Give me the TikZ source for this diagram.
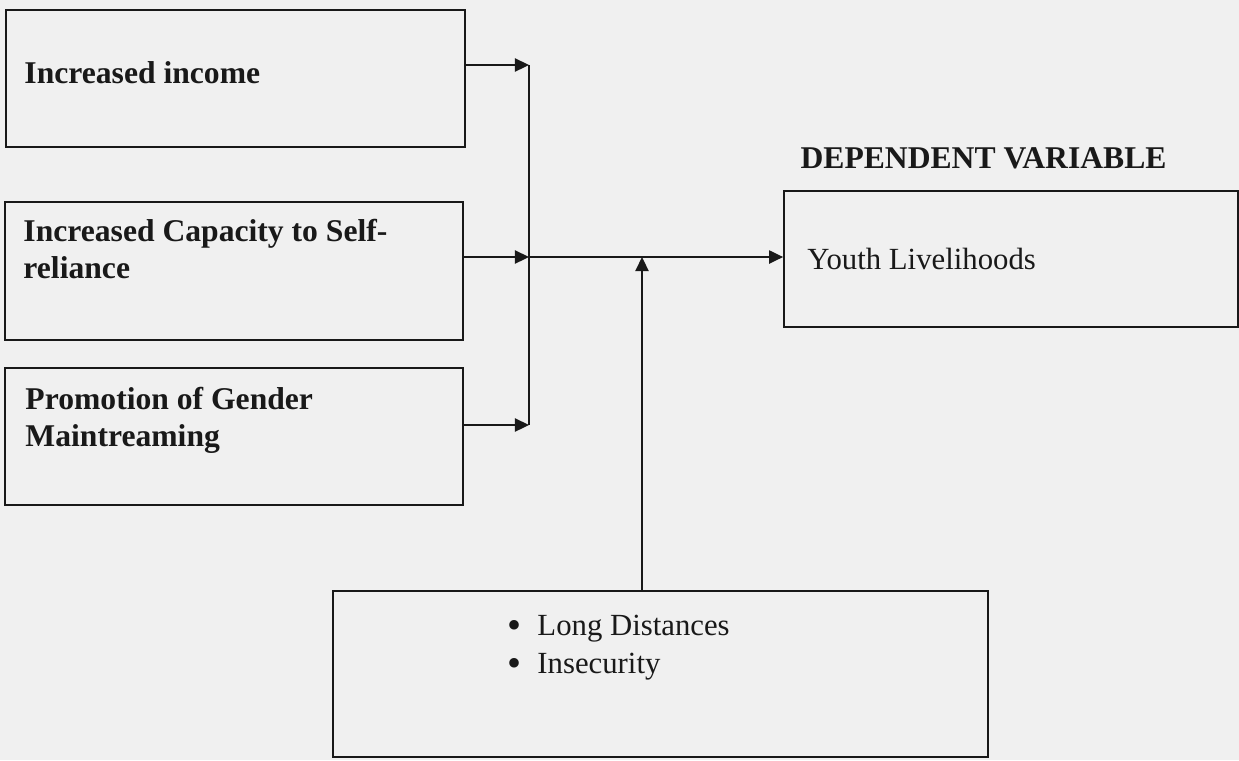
\documentclass[tikz,border=0pt]{standalone}
\usepackage{fontspec}
\setmainfont{Liberation Serif}
\usepackage{tikz}
\usetikzlibrary{positioning,calc}
\usetikzlibrary{arrows.meta}
\definecolor{paper}{rgb}{0.94,0.94,0.94}
\definecolor{ink}{rgb}{0.1,0.1,0.1}

\newcommand{\blt}{\makebox[0.6cm][l]{\raisebox{-1.6pt}{\scalebox{1.3}{\textbullet}}}}

\begin{document}
\begin{tikzpicture}[
  box/.style = {
    draw = ink,
    line width = 1pt,
    rectangle,
    inner sep = 0pt,
  },
  txt/.style = {
    inner sep = 0pt,
    align = left,
    text = ink,
    font = \fontsize{17.5}{20.5}\selectfont,
  },
  btxt/.style = {
    txt,
    font = \fontsize{18}{20.8}\selectfont\bfseries,
  },
  >={Triangle[length=8pt,width=7.5pt]},
]

  \fill[paper] (0,0) rectangle (24.78,-15.2);
  \useasboundingbox (0,0) rectangle (24.78,-15.2);

  % independent variables
  \node[box,minimum width=9.18cm,minimum height=2.74cm] (inc) at (4.71,-1.57) {};
  \node[box,minimum width=9.16cm,minimum height=2.76cm] (cap) at (4.68,-5.42) {};
  \node[box,minimum width=9.16cm,minimum height=2.74cm] (gen) at (4.68,-8.73) {};

  \node[btxt,anchor=north west] (incT) at ($(inc.north west)+(0.38,-1.04)$) {Increased income};
  \node[btxt,anchor=north west] (capT) at ($(cap.north west)+(0.38,-0.36)$) {Increased Capacity to Self-\\reliance};
  \node[btxt,anchor=north west] (genT) at ($(gen.north west)+(0.42,-0.40)$) {Promotion of Gender\\Maintreaming};

  % dependent variable
  \node[box,minimum width=9.08cm,minimum height=2.72cm] (youth) at (20.22,-5.18) {};
  \node[txt,anchor=west] (youthT) at ($(youth.west)+(0.48,0.0)$) {Youth Livelihoods};
  \node[btxt] (dep) [above=0.42cm of youth.north, xshift=-0.55cm] {DEPENDENT VARIABLE};

  % intervening variables
  \node[box,minimum width=13.1cm,minimum height=3.32cm] (cons) at (13.21,-13.48) {};
  \node[txt,anchor=north west] (consT) at ($(cons.north west)+(3.5,-0.50)$)
    {\blt Long Distances\\[1.1pt]\blt Insecurity};

  \coordinate (b1) at (10.58,-1.30);
  \coordinate (b2) at (10.58,-5.14);
  \coordinate (b3) at (10.58,-8.50);
  \coordinate (j) at (12.84,-5.14);

  \draw[->,line width=1pt,draw=ink] (inc.east |- b1) -- (b1);
  \draw[->,line width=1pt,draw=ink] (cap.east |- b2) -- (b2);
  \draw[->,line width=1pt,draw=ink] (gen.east |- b3) -- (b3);
  \draw[line width=1pt,draw=ink] (b1) -- (b3);
  \draw[->,line width=1pt,draw=ink] (b2) -- (youth.west |- b2);
  \draw[->,line width=1pt,draw=ink] (cons.north -| j) -- (j);

\end{tikzpicture}
\end{document}
